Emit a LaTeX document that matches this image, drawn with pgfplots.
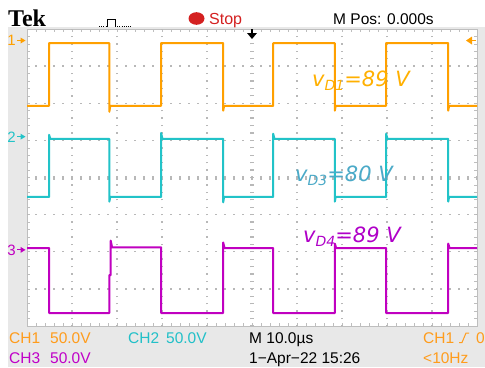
\documentclass[border=0pt]{standalone}
\usepackage{pgfplots}
\pgfplotsset{compat=1.18}
\usepackage{fontspec}
\setmainfont{Liberation Sans}
\newfontfamily\dejavu{DejaVu Sans}
\newfontfamily\tekserif{Liberation Serif}
\definecolor{c1}{HTML}{FFA000}
\definecolor{c2}{HTML}{22C3C8}
\definecolor{c3}{HTML}{C000C0}
\definecolor{l1}{HTML}{FFB000}
\definecolor{l2}{HTML}{4BAAC8}
\definecolor{l3}{HTML}{B000C8}
\definecolor{f1}{HTML}{FF9C1C}
\definecolor{f2}{HTML}{22C0C8}
\definecolor{f3}{HTML}{C000C8}
\definecolor{bg}{HTML}{E8E8E8}
\definecolor{gridc}{HTML}{B8B8B8}
\definecolor{bord}{HTML}{BEBEBE}
\definecolor{stopred}{HTML}{D42020}
\newcommand{\chmark}[3]{%
  \node[#1, anchor=base east, inner sep=0, font=\fontsize{15bp}{15bp}\selectfont] at ([xshift=-11bp, yshift=-5.4bp]axis cs:0,#2) {#3};
  \draw[#1, line width=1.1bp] ([xshift=-10bp]axis cs:0,#2) -- ([xshift=-4bp]axis cs:0,#2);
  \fill[#1] ([xshift=-1.5bp]axis cs:0,#2) -- ++(-5bp,3bp) -- ++(0,-6bp) -- cycle;
}
\begin{document}
\begin{tikzpicture}[x=1bp,y=1bp]
\useasboundingbox (0,0) rectangle (485,367);
\clip (0,0) rectangle (485,367);
\fill[white] (0,0) rectangle (485,367);
\fill[bg] (8,0) rectangle (485,340);
\begin{axis}[at={(27bp,41bp)}, anchor=south west, scale only axis,
  width=450bp, height=297bp, xmin=0, xmax=10, ymin=0, ymax=8,
  axis background/.style={fill=white},
  axis line style={bord, line width=0.8bp},
  xtick={0,...,10}, ytick={0,...,8}, minor x tick num=4, minor y tick num=4,
  xticklabels={}, yticklabels={}, tick align=inside,
  major tick length=3bp, minor tick length=3bp,
  tick style={bord, line width=0.6bp}, clip=false]
% grid
\pgfplotsinvokeforeach{1,2,3,4,6,7,8,9}{
  \draw[gridc, line width=1.4bp, dash pattern=on 1.4bp off 6.025bp, dash phase=0.7bp] (axis cs:#1,0) -- (axis cs:#1,8);
}
\pgfplotsinvokeforeach{1,2,3,5,6,7}{
  \draw[gridc, line width=1.4bp, dash pattern=on 1.4bp off 7.6bp, dash phase=0.7bp] (axis cs:0,#1) -- (axis cs:10,#1);
}
\draw[gridc, line width=4bp, dash pattern=on 1.2bp off 6.225bp, dash phase=0.6bp] (axis cs:5,0) -- (axis cs:5,8);
\draw[gridc, line width=4bp, dash pattern=on 1.2bp off 7.8bp, dash phase=0.6bp] (axis cs:0,4) -- (axis cs:10,4);
% CH1
\addplot[c1, line width=2bp, line join=round, no marks] coordinates {
(0,5.93) (0.49,5.93) (0.49,7.62) (1.83,7.62) (1.83,5.77) (1.85,5.93) (2.98,5.93)
(2.98,7.62) (4.36,7.62) (4.36,5.80) (4.38,5.93) (5.47,5.93) (5.47,7.62) (6.84,7.62)
(6.84,5.80) (6.86,5.93) (7.98,5.93) (7.98,7.62) (9.36,7.62) (9.36,5.80) (9.38,5.93) (10,5.93)};
% CH2
\addplot[c2, line width=2bp, line join=round, no marks] coordinates {
(0,3.475) (0.49,3.475) (0.49,5.15) (0.52,5.04) (1.83,5.04) (1.83,3.35) (1.85,3.475)
(2.98,3.475) (2.98,5.20) (3.01,5.04) (4.36,5.04) (4.36,3.33) (4.38,3.475) (5.47,3.475)
(5.47,5.18) (5.50,5.04) (6.84,5.04) (6.84,3.35) (6.86,3.475) (7.98,3.475) (7.98,5.18)
(8.01,5.04) (9.36,5.04) (9.36,3.35) (9.38,3.475) (10,3.475)};
% CH3
\addplot[c3, line width=2bp, line join=round, no marks] coordinates {
(0,2.10) (0.49,2.10) (0.49,0.35) (1.83,0.35) (1.83,1.37) (1.86,1.37) (1.86,2.30)
(1.89,2.12) (2.98,2.12) (2.98,0.35) (4.36,0.35) (4.36,2.25) (4.39,2.10) (5.47,2.10)
(5.47,0.35) (6.84,0.35) (6.84,2.22) (6.87,2.10) (7.98,2.10) (7.98,0.35) (9.36,0.35)
(9.36,2.22) (9.39,2.10) (10,2.10)};
% channel markers
\chmark{c1}{7.69}{1}
\chmark{c2}{5.10}{2}
\chmark{c3}{2.05}{3}
% trigger level arrow (right)
\fill[c1] ([xshift=-11bp]axis cs:10,7.69) -- ++(6bp,4bp) -- ++(0,-8bp) -- cycle;
\draw[c1, line width=1.2bp] ([xshift=-6bp]axis cs:10,7.69) -- ([xshift=-1bp]axis cs:10,7.69);
% trigger position arrow (top)
\draw[black, line width=1.2bp] (axis cs:5,8) -- ([yshift=-5bp]axis cs:5,8);
\fill[black] ([yshift=-10bp]axis cs:5,8) -- ++(-5bp,6bp) -- ++(10bp,0) -- cycle;
% labels
\node[l1, anchor=base west, inner sep=0, font=\dejavu\itshape\fontsize{21bp}{21bp}\selectfont] at (axis cs:6.333,6.438) {v\raisebox{-4bp}{\fontsize{14bp}{14bp}\selectfont D1}=89 V};
\node[l2, anchor=base west, inner sep=0, font=\dejavu\itshape\fontsize{21bp}{21bp}\selectfont] at (axis cs:5.956,3.879) {v\raisebox{-4bp}{\fontsize{14bp}{14bp}\selectfont D3}=80 V};
\node[l3, anchor=base west, inner sep=0, font=\dejavu\itshape\fontsize{21bp}{21bp}\selectfont] at (axis cs:6.133,2.236) {v\raisebox{-4bp}{\fontsize{14bp}{14bp}\selectfont D4}=89 V};
\end{axis}
% header
\node[anchor=base west, inner sep=0, font=\tekserif\bfseries\fontsize{24bp}{24bp}\selectfont] at (8,341) {Tek};
\draw[black, line width=0.9bp, dash pattern=on 1bp off 1.2bp] (99,340.5) -- (107,340.5);
\draw[black, line width=0.9bp] (107,340.5) -- (107,348) -- (115,348) -- (115,340.5);
\draw[black, line width=0.9bp, dash pattern=on 1bp off 1.2bp] (115,340.5) -- (131,340.5);
\fill[stopred] (196.5,348.5) ellipse [x radius=8, y radius=6.3];
\node[stopred, anchor=base west, inner sep=0, font=\fontsize{16bp}{16bp}\selectfont] at (209,343) {Stop};
\node[black, anchor=base west, inner sep=0, font=\fontsize{15.5bp}{16bp}\selectfont] at (333,343) {M Pos: 0.000s};
% footer
\begin{scope}[every node/.style={anchor=base west, inner sep=0, font=\fontsize{15.5bp}{16bp}\selectfont}]
\node[f1] at (9,24) {CH1};
\node[f1] at (50,24) {50.0V};
\node[f2] at (128,24) {CH2};
\node[f2] at (166,24) {50.0V};
\node[black] at (249,24) {M 10.0µs};
\node[f1] at (423,24) {CH1};
\node[f1] at (476,24) {0};
\node[f3] at (9,4) {CH3};
\node[f3] at (50,4) {50.0V};
\node[black] at (249,4) {1−Apr−22 15:26};
\node[f1] at (423,4) {<10Hz};
\end{scope}
\draw[f1, line width=1bp] (459,24.5) -- (462,24.5) -- (466,34) -- (469,34);
\end{tikzpicture}
\end{document}
